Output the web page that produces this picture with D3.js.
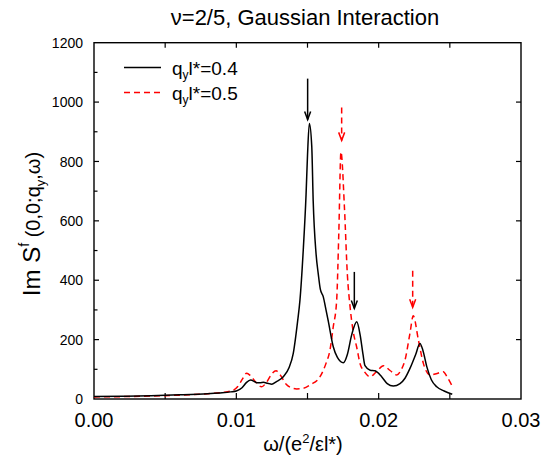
<!DOCTYPE html>
<html><head><meta charset="utf-8">
<script src="https://cdn.jsdelivr.net/npm/d3@7"></script>
<style>body{margin:0;background:#fff}svg{display:block}text{font-family:"Liberation Sans",Arial,Helvetica,sans-serif;fill:#000}</style>
</head><body>
<script>
// ---- data ----
const omegaBlack = [0,0.002,0.004,0.006,0.008,0.009,0.0096,0.0100,0.0104,0.0107,0.0110,0.0113,0.01143,0.0117,0.0119,0.0122,0.01249,0.0128,0.0133,0.0137,0.0140,0.0143,0.01447,0.0147,0.0149,0.0150,0.01513,0.0153,0.0154,0.0156,0.01576,0.0159,0.01611,0.0163,0.01646,0.01681,0.0171,0.01752,0.0178,0.0181,0.01846,0.0187,0.0189,0.01904,0.0194,0.01974,0.02021,0.0206,0.02103,0.0215,0.02185,0.0222,0.0226,0.0229,0.0231,0.02338,0.0237,0.02408,0.0246,0.02517];
const imBlack = [8,9,11,14,18,21,24,27,38,55,64,58,55,55,56,53,50,58,75,105,154,260,333,500,690,820,928,850,667,490,420,370,344,300,262,176,140,122,150,215,260,215,150,112,97,95,75,52,44,52,70,103,150,187,165,109,65,41,27,16];
const omegaRed = [0,0.002,0.004,0.006,0.008,0.009,0.0097,0.0101,0.0104,0.01073,0.0110,0.0114,0.01178,0.0121,0.0125,0.01279,0.0131,0.0135,0.0139,0.01424,0.0147,0.0152,0.01588,0.0163,0.01658,0.0168,0.01705,0.0172,0.01735,0.0176,0.0178,0.01799,0.0182,0.01845,0.0187,0.0190,0.01939,0.0199,0.02033,0.0208,0.02127,0.0216,0.02185,0.0222,0.02243,0.02279,0.02314,0.02361,0.0241,0.02454,0.0248,0.02513];
const imRed = [7,8,10,13,18,22,28,42,65,87,78,55,41,55,85,95,80,50,37,34,36,48,75,120,165,240,333,560,832,640,420,311,230,176,118,92,75,95,112,96,81,100,131,222,280,199,120,81,86,92,75,47];
// arrows: omega, start value, end value
const arrowX = [0.01501, 0.0174, 0.01829, 0.02239];
const arrowFrom = [1079, 982, 428, 432];
const arrowTo = [941, 871, 305, 309];
const arrowSeries = ["black", "red", "black", "red"];
const xTicks = [0, 0.01, 0.02, 0.03];
const xTickLabels = ["0.00", "0.01", "0.02", "0.03"];
const yTicks = [0, 200, 400, 600, 800, 1000, 1200];
const seriesNames = ["0.4", "0.5"];

const W = 548, H = 459;
const L = 94, R = 521, T = 42.7, B = 399;
const svg = d3.select("body").append("svg").attr("width", W).attr("height", H);
const x = d3.scaleLinear().domain([0, 0.03]).range([L, R]);
const y = d3.scaleLinear().domain([0, 1200]).range([B, T]);

// frame
svg.append("rect").attr("x", L).attr("y", T).attr("width", R - L).attr("height", B - T)
  .attr("fill", "none").attr("stroke", "#000").attr("stroke-width", 1.4);

// x ticks (bottom and top, every 0.005, inward)
const xMinor = d3.range(0.005, 0.0299, 0.005);
const tx = svg.append("g").attr("stroke", "#000").attr("stroke-width", 1.2);
xMinor.forEach(v => {
  tx.append("line").attr("x1", x(v)).attr("x2", x(v)).attr("y1", B).attr("y2", B - 6);
  tx.append("line").attr("x1", x(v)).attr("x2", x(v)).attr("y1", T).attr("y2", T + 5);
});
// y ticks
d3.range(100, 1200, 100).forEach(v => {
  const major = v % 200 === 0;
  tx.append("line").attr("x1", L).attr("x2", L + (major ? 5 : 3.5)).attr("y1", y(v)).attr("y2", y(v));
  if (major) tx.append("line").attr("x1", R).attr("x2", R - 5).attr("y1", y(v)).attr("y2", y(v));
});

// tick labels
svg.append("g").selectAll("text").data(yTicks).join("text")
  .attr("x", 83).attr("y", d => y(d)).attr("dy", "0.36em").attr("text-anchor", "end")
  .attr("font-size", 14).text(d => d);
svg.append("g").selectAll("text").data(xTicks).join("text")
  .attr("x", d => x(d)).attr("y", 427).attr("text-anchor", "middle")
  .attr("font-size", 20).text((d, i) => xTickLabels[i]);

// title
svg.append("text").attr("x", 305).attr("y", 25).attr("text-anchor", "middle")
  .attr("font-size", 22).text("ν=2/5, Gaussian Interaction");

// x title
const xt = svg.append("text").attr("x", 303).attr("y", 451).attr("text-anchor", "middle").attr("font-size", 20);
xt.append("tspan").text("ω/(e");
xt.append("tspan").attr("font-size", 13).attr("dy", -8).text("2");
xt.append("tspan").attr("dy", 8).text("/εl*)");

// y title
const yt = svg.append("text").attr("transform", "translate(40,224) rotate(-90)").attr("text-anchor", "middle").attr("font-size", 20);
yt.append("tspan").attr("font-size", 24).text("Im S");
yt.append("tspan").attr("font-size", 14).attr("dy", -11).text("f");
yt.append("tspan").attr("dy", 11).text(" (0,0;q");
yt.append("tspan").attr("font-size", 13).attr("dy", 5).text("y");
yt.append("tspan").attr("dy", -5).text(",ω)");

// curves
const line = d3.line().x(d => x(d[0])).y(d => y(d[1])).curve(d3.curveMonotoneX);
const black = omegaBlack.map((w, i) => [w, imBlack[i]]);
const red = omegaRed.map((w, i) => [w, imRed[i]]);
svg.append("path").attr("d", line(red)).attr("fill", "none").attr("stroke", "#ff0000")
  .attr("stroke-width", 1.5).attr("stroke-dasharray", "6,4");
svg.append("path").attr("d", line(black)).attr("fill", "none").attr("stroke", "#000")
  .attr("stroke-width", 1.5);

// arrows
arrowX.forEach((w, i) => {
  const col = arrowSeries[i] === "red" ? "#ff0000" : "#000";
  const dash = arrowSeries[i] === "red" ? "6,4" : null;
  const xx = x(w), y0 = y(arrowFrom[i]), y1 = y(arrowTo[i]);
  svg.append("line").attr("x1", xx).attr("x2", xx).attr("y1", y0).attr("y2", y1)
    .attr("stroke", col).attr("stroke-width", 1.5).attr("stroke-dasharray", dash);
  svg.append("path").attr("d", `M${xx - 3},${y1 - 8}L${xx},${y1}L${xx + 3},${y1 - 8}`)
    .attr("fill", "none").attr("stroke", col).attr("stroke-width", 1.5);
});

// legend
const lg = svg.append("g");
[["#000", null], ["#ff0000", "6,4"]].forEach((s, i) => {
  const ly = 67.5 + i * 25;
  lg.append("line").attr("x1", 124).attr("x2", 161).attr("y1", ly).attr("y2", ly)
    .attr("stroke", s[0]).attr("stroke-width", 1.5).attr("stroke-dasharray", s[1]);
  const t = lg.append("text").attr("x", 172).attr("y", ly + 7.5).attr("font-size", 19);
  t.append("tspan").text("q");
  t.append("tspan").attr("font-size", 12).attr("dy", 4).text("y");
  t.append("tspan").attr("dy", -4).text("l*=" + seriesNames[i]);
});
</script>
</body></html>
